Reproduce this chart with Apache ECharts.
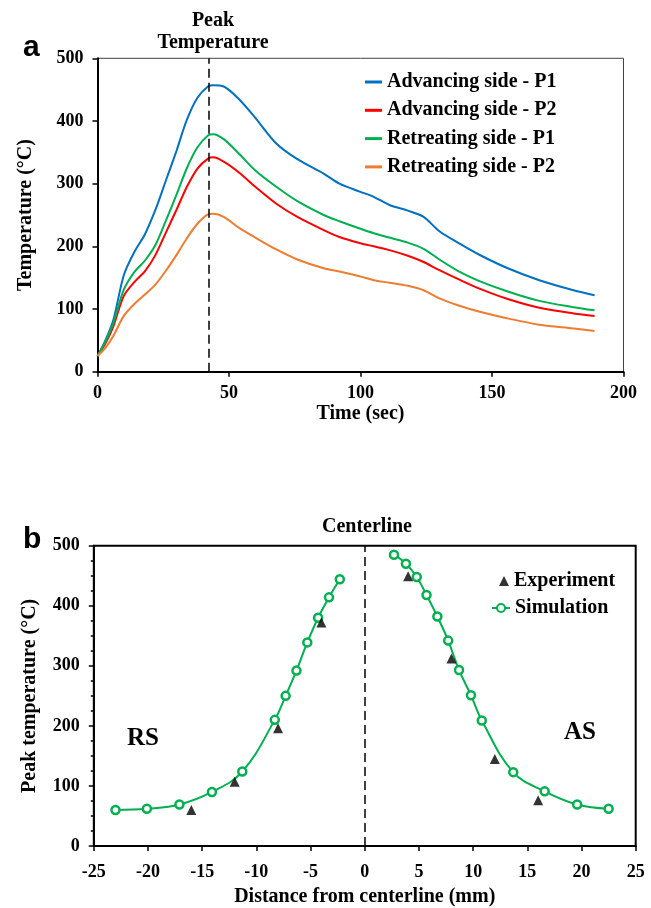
<!DOCTYPE html>
<html>
<head>
<meta charset="utf-8">
<script src="https://cdn.jsdelivr.net/npm/echarts@6/dist/echarts.min.js"></script>
<style>
html,body{margin:0;padding:0;background:#fff;}
#chart{width:651px;height:908px;}
</style>
</head>
<body>
<div id="chart"></div>
<script>
// ---- Panel a: temperature vs time ----
const timeSec = [0,3,6,10,14,18,22,26,30,34,38,42,44,48,54,60,68,76,86,92,100,105,111,118,124,130,137,145,156,168,181,189];
const advP1 = [25,50,82,154,191,219,258,305,352,402,437,455,457,455,434,405,364,339,316,300,287,279,266,257,247,224,206,187,165,146,130,122];
const advP2 = [25,45,72,121,143,160,186,222,258,295,324,340,342,335,317,295,268,247,226,215,205,200,194,185,175,162,148,133,116,102,93,89];
const retP1 = [25,48,77,131,159,177,202,241,282,325,358,377,379,371,347,321,295,272,250,240,228,221,214,206,196,179,161,145,128,113,103,98];
const retP2 = [25,38,57,89,108,123,139,161,186,213,236,251,252,247,229,214,195,179,165,160,152,146,142,137,130,117,106,96,85,75,69,65];
const peakTime = 42.3;
const seriesNamesA = ['Advancing side - P1','Advancing side - P2','Retreating side - P1','Retreating side - P2'];
const colorsA = ['#0070c0','#ff0000','#00b050','#ed7d31'];

// ---- Panel b: peak temperature vs distance ----
const simDistLeft = [-23.0,-20.1,-17.1,-14.1,-11.3,-8.3,-7.3,-6.3,-5.3,-4.3,-3.3,-2.3];
const simTempLeft = [60,62,69,90,124,210,250,292,339,380,414,444];
const simDistRight = [2.7,3.8,4.8,5.7,6.7,7.7,8.7,9.8,10.8,13.7,16.6,19.6,22.5];
const simTempRight = [485,470,448,418,382,342,293,251,209,123,91,69,62];
const expDist = [-16,-12,-8,-4,4,8,12,16];
const expTemp = [60,107,196,372,449,312,145,76];

const serif = 'Liberation Serif';
const labelStyle = {fontFamily: serif, fontWeight: 'bold', fontSize: 18, color: '#000'};
const nameStyle = {fontFamily: serif, fontWeight: 'bold', fontSize: 20, color: '#000'};
const legendText = {fontFamily: serif, fontWeight: 'bold', fontSize: 20, color: '#000'};

function pairs(xs, ys){ return xs.map((x,i)=>[x, ys[i]]); }

const chart = echarts.init(document.getElementById('chart'), null, {renderer:'canvas'});

const axisLineStyle = {lineStyle:{color:'#000', width:2}};
const tickStyle = {show:true, inside:false, length:5, lineStyle:{color:'#000', width:1.5}};

const simData = pairs(simDistLeft, simTempLeft).concat([[0, null]]).concat(pairs(simDistRight, simTempRight));

const option = {
  animation: false,
  backgroundColor: '#fff',
  grid: [
    {left: 97.5, right: 27.5, top: 58.3, height: 313.4, show: true, borderColor: '#444', borderWidth: 1},
    {left: 93.8, right: 15.3, top: 545.7, height: 301.6, show: true, borderColor: '#000', borderWidth: 2}
  ],
  xAxis: [
    {gridIndex:0, type:'value', min:0, max:200, interval:50,
     axisLine: axisLineStyle, axisTick: tickStyle, splitLine:{show:false},
     axisLabel: Object.assign({margin:13}, labelStyle),
     name:'Time (sec)', nameLocation:'middle', nameGap:20, nameTextStyle: nameStyle},
    {gridIndex:1, type:'value', min:-25, max:25, interval:5,
     axisLine: Object.assign({onZero:false}, axisLineStyle), axisTick: tickStyle, splitLine:{show:false},
     axisLabel: Object.assign({margin:17}, labelStyle),
     name:'Distance from centerline (mm)', nameLocation:'middle', nameGap:41, nameTextStyle: nameStyle}
  ],
  yAxis: [
    {gridIndex:0, type:'value', min:0, max:500, interval:100,
     axisLine: axisLineStyle, axisTick: tickStyle, splitLine:{show:false},
     axisLabel: Object.assign({margin:14}, labelStyle),
     name:'Temperature (°C)', nameLocation:'middle', nameGap:62, nameTextStyle: nameStyle},
    {gridIndex:1, type:'value', min:0, max:500, interval:100,
     axisLine: Object.assign({onZero:false}, axisLineStyle), axisTick: tickStyle, splitLine:{show:false},
     minorTick:{show:true, splitNumber:4, length:3, lineStyle:{color:'#000', width:1.5}},
     axisLabel: Object.assign({margin:14}, labelStyle),
     name:'Peak temperature (°C)', nameLocation:'middle', nameGap:54, nameTextStyle: nameStyle}
  ],
  legend: [
    {data: seriesNamesA, orient:'vertical', left:365, top:72, padding:0, itemWidth:17, itemHeight:3, itemGap:8.3,
     icon:'rect', textStyle: legendText},
    {data: [{name:'Experiment', icon:'triangle'}], left:499, top:571, padding:0, itemWidth:10, itemHeight:10,
     textStyle: legendText},
    {data: ['Simulation'], left:491, top:598, padding:0, itemWidth:18, itemHeight:10,
     textStyle: legendText}
  ],
  series: [
    ...[advP1, advP2, retP1, retP2].map((vals, i) => ({
      name: seriesNamesA[i], type:'line', xAxisIndex:0, yAxisIndex:0,
      data: pairs(timeSec, vals), symbol:'none', smooth:0.3,
      lineStyle:{color: colorsA[i], width:2}, itemStyle:{color: colorsA[i]}, z: 3
    })),
    {name:'peakLine', type:'line', xAxisIndex:0, yAxisIndex:0, data:[], symbol:'none',
     markLine:{silent:true, symbol:'none', label:{show:false},
       lineStyle:{color:'#000', type:[9,5], width:1.5},
       data:[[{coord:[peakTime,0]},{coord:[peakTime,500]}]]}},
    {name:'centerLine', type:'line', xAxisIndex:1, yAxisIndex:1, data:[], symbol:'none',
     markLine:{silent:true, symbol:'none', label:{show:false},
       lineStyle:{color:'#000', type:[9,5], width:1.5},
       data:[[{coord:[0,0]},{coord:[0,500]}]]}},
    {name:'Simulation', type:'line', xAxisIndex:1, yAxisIndex:1, data: simData,
     connectNulls:false, smooth:0.4, symbol:'circle', symbolSize:8, showSymbol:true,
     lineStyle:{color:'#00b050', width:2},
     itemStyle:{color:'#fff', borderColor:'#00b050', borderWidth:2.5}, z:3},
    {name:'Experiment', type:'scatter', xAxisIndex:1, yAxisIndex:1, data: pairs(expDist, expTemp),
     symbol:'triangle', symbolSize:10, itemStyle:{color:'#000'}, z:4}
  ],
  graphic: [
    {type:'text', left:23, top:33, style:{text:'a', font:'bold 30px "Liberation Sans"', fill:'#000'}},
    {type:'text', left:23, top:525, style:{text:'b', font:'bold 30px "Liberation Sans"', fill:'#000'}},
    {type:'text', x:213, y:21, style:{text:'Peak', font:'bold 20px "Liberation Serif"', fill:'#000', align:'center', verticalAlign:'middle'}},
    {type:'text', x:213, y:43, style:{text:'Temperature', font:'bold 20px "Liberation Serif"', fill:'#000', align:'center', verticalAlign:'middle'}},
    {type:'text', x:367, y:527, style:{text:'Centerline', font:'bold 20px "Liberation Serif"', fill:'#000', align:'center', verticalAlign:'middle'}},
    {type:'text', x:143, y:739, style:{text:'RS', font:'bold 25px "Liberation Serif"', fill:'#000', align:'center', verticalAlign:'middle'}},
    {type:'text', x:580, y:733, style:{text:'AS', font:'bold 25px "Liberation Serif"', fill:'#000', align:'center', verticalAlign:'middle'}}
  ]
};
chart.setOption(option);
</script>
</body>
</html>
